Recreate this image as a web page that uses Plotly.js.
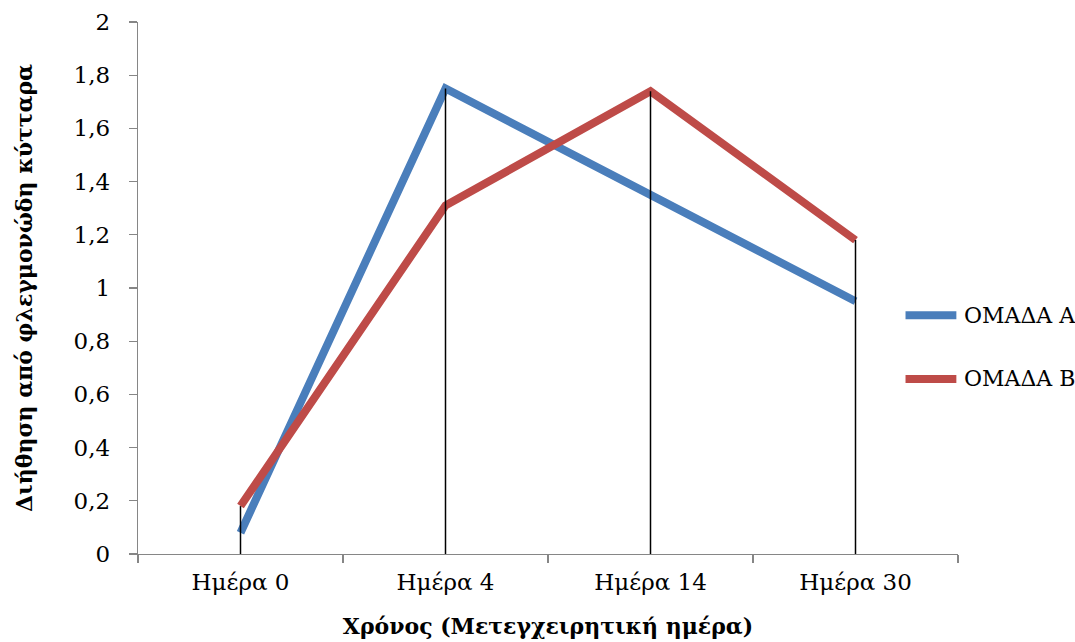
<!DOCTYPE html>
<html>
<head>
<meta charset="utf-8">
<script src="https://cdn.plot.ly/plotly-3.0.1.min.js"></script>
<style>html,body{margin:0;padding:0;background:#fff;}#chart{width:1075px;height:642px;}</style>
</head>
<body>
<div id="chart"></div>
<script>
const categories = ["Ημέρα 0", "Ημέρα 4", "Ημέρα 14", "Ημέρα 30"];
const seriesNames = ["ΟΜΑΔΑ Α", "ΟΜΑΔΑ Β"];
const groupA = [0.08, 1.75, 1.35, 0.95];
const groupB = [0.18, 1.31, 1.74, 1.18];
const seriesColors = ["#4a7ebb", "#be4b48"];
const yTitle = "Διήθηση από φλεγμονώδη κύτταρα";
const xTitle = "Χρόνος (Μετεγχειρητική ημέρα)";

const FONT = "DejaVu Serif, Liberation Serif, serif";

// drop lines from axis to the higher of the two series at each category
const dropX = [], dropY = [];
categories.forEach((c, i) => {
  dropX.push(c, c, null);
  dropY.push(0, Math.max(groupA[i], groupB[i]), null);
});

const traces = [
  {x: categories, y: groupA, name: seriesNames[0], type: "scatter", mode: "lines",
   line: {color: seriesColors[0], width: 8}, showlegend: false},
  {x: categories, y: groupB, name: seriesNames[1], type: "scatter", mode: "lines",
   line: {color: seriesColors[1], width: 8}, showlegend: false},
  {x: dropX, y: dropY, type: "scatter", mode: "lines",
   line: {color: "#000000", width: 1.5}, showlegend: false, hoverinfo: "skip"}
];

// custom legend (paper coordinates)
const legendY = [0.449, 0.329];
const shapes = [], annotations = [];
seriesNames.forEach((n, i) => {
  shapes.push({type: "line", xref: "paper", yref: "paper",
    x0: 0.936, x1: 0.998, y0: legendY[i], y1: legendY[i],
    line: {color: seriesColors[i], width: 8}});
  annotations.push({xref: "paper", yref: "paper", x: 1.0045, y: legendY[i],
    xanchor: "left", yanchor: "middle", showarrow: false, text: n,
    font: {family: FONT, size: 22, color: "#000"}});
});

const layout = {
  width: 1075, height: 642,
  margin: {l: 138, r: 117, t: 22, b: 88},
  paper_bgcolor: "#fff", plot_bgcolor: "#fff",
  separators: ",.",
  font: {family: FONT, size: 23, color: "#000"},
  showlegend: false,
  xaxis: {
    type: "category", range: [-0.5, 3.5],
    showline: true, linecolor: "#868686", linewidth: 1.3,
    ticks: "outside", tickson: "boundaries", ticklen: 8, tickcolor: "#868686", tickwidth: 1.3,
    showgrid: false, zeroline: false,
    tickfont: {family: FONT, size: 23},
    ticklabelstandoff: 7,
    title: {text: "<b>" + xTitle + "</b>", font: {family: FONT, size: 22}, standoff: 24}
  },
  yaxis: {
    range: [0, 2], dtick: 0.2, tick0: 0,
    showline: true, linecolor: "#868686", linewidth: 1.3,
    ticks: "outside", ticklen: 8, tickcolor: "#868686", tickwidth: 1.3,
    showgrid: false, zeroline: false,
    tickfont: {family: FONT, size: 23},
    ticklabelstandoff: 14,
    title: {text: "<b>" + yTitle + "</b>", font: {family: FONT, size: 22}, standoff: 34}
  },
  shapes: shapes,
  annotations: annotations
};

Plotly.newPlot("chart", traces, layout, {displayModeBar: false, staticPlot: true});
</script>
</body>
</html>
